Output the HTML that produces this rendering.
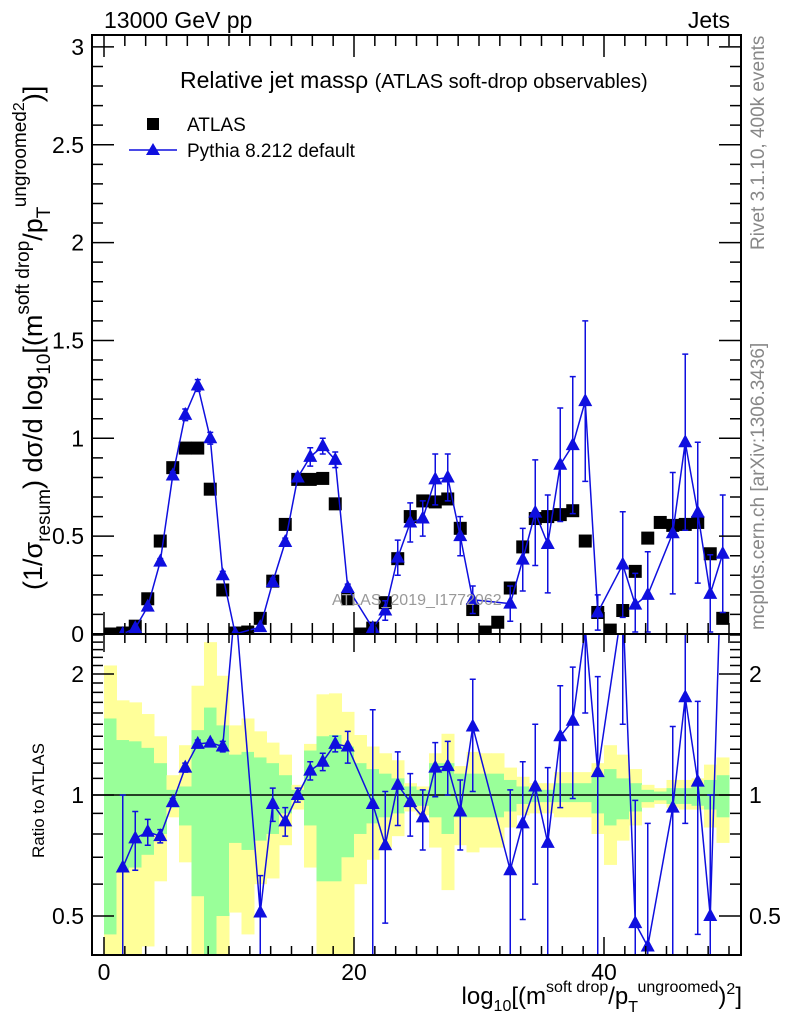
<!DOCTYPE html>
<html><head><meta charset="utf-8"><style>
html,body{margin:0;padding:0;background:#fff;overflow:hidden;width:786px;height:1024px}
svg{display:block;font-family:"Liberation Sans",sans-serif}
</style></head><body>
<svg id="chart" width="786" height="1024" viewBox="0 0 786 1024" xmlns="http://www.w3.org/2000/svg">
<defs>
<clipPath id="cm"><rect x="92" y="35" width="649" height="599"/></clipPath>
<clipPath id="cr"><rect x="92" y="634" width="649" height="321"/></clipPath>
</defs>
<g id="bands" clip-path="url(#cr)"></g>
<g id="ratioG" clip-path="url(#cr)"></g>
<g id="mainG" clip-path="url(#cm)"></g>
<g id="axes"></g>
<text x="104" y="28" font-size="23">13000 GeV pp</text>
<text x="730" y="28" font-size="23" text-anchor="end">Jets</text>
<text x="180" y="88" font-size="23">Relative jet massρ <tspan font-size="20">(ATLAS soft-drop observables)</tspan></text>
<g>
<rect x="147" y="118" width="12" height="12" fill="#000"/>
<text x="187" y="131" font-size="19">ATLAS</text>
<line x1="129" y1="150" x2="177" y2="150" stroke="#0f0fdf" stroke-width="1.5"/>
<path d="M153,143 L160,155 L146,155 Z" fill="#0f0fdf"/>
<text x="187" y="157" font-size="19">Pythia 8.212 default</text>
</g>
<text x="332" y="605" font-size="16" fill="#999">ATLAS_2019_I1772062</text>
<text transform="translate(764,250) rotate(-90)" font-size="19" fill="#888">Rivet 3.1.10,  400k events</text>
<text transform="translate(764,630) rotate(-90)" font-size="19" fill="#888">mcplots.cern.ch [arXiv:1306.3436]</text>
<text transform="translate(42,590) rotate(-90)" font-size="27">(1/σ<tspan font-size="19" dy="8">resum</tspan><tspan dy="-8">) dσ/d log</tspan><tspan font-size="19" dy="8">10</tspan><tspan dy="-8">[(m</tspan><tspan font-size="19" dy="-13">soft drop</tspan><tspan dy="13">/p</tspan><tspan font-size="19" dy="8">T</tspan><tspan font-size="19" dy="-24">ungroomed</tspan><tspan font-size="16" dy="-2">2</tspan><tspan dy="18">)]</tspan></text>
<text transform="translate(44,858) rotate(-90)" font-size="17">Ratio to ATLAS</text>
<text x="742" y="1004" font-size="24" text-anchor="end">log<tspan font-size="16" dy="7">10</tspan><tspan dy="-7">[(m</tspan><tspan font-size="16" dy="-12">soft drop</tspan><tspan dy="12">/p</tspan><tspan font-size="16" dy="8">T</tspan><tspan font-size="16" dy="-20">ungroomed</tspan><tspan dy="12">)</tspan><tspan font-size="16" dy="-10">2</tspan><tspan dy="10">]</tspan></text>
</svg>
<script>
const atlas = [0.0,0.005,0.04,0.18,0.475,0.85,0.95,0.95,0.74,0.225, 0.005,0.01,0.08,0.27,0.56,0.79,0.79,0.795,0.665,0.18, 0.0,0.03,0.16,0.385,0.60,0.68,0.675,0.69,0.54,0.125, 0.01,0.06,0.235,0.445,0.59,0.60,0.61,0.63,0.475,0.11, 0.02,0.12,0.32,0.49,0.57,0.555,0.56,0.57,0.41,0.08];
const pythia = [null,0.0,0.03,0.14,0.37,0.81,1.12,1.27,1.0,0.30, 0.0,null,0.035,0.265,0.47,0.80,0.905,0.96,0.89,0.235, null,0.03,0.12,0.39,0.57,0.59,0.79,0.80,0.50,0.175, null,null,0.155,0.38,0.62,0.46,0.865,0.965,1.19,0.11, null,0.355,0.15,0.2,null,0.515,0.98,0.62,0.205,0.41];
const pythiaErr = [0,0.005,0.01,0.01,0.015,0.02,0.03,0.03,0.03,0.02, 0.01,0,0.01,0.02,0.02,0.02,0.047,0.04,0.04,0.02, 0,0.02,0.05,0.09,0.1,0.09,0.13,0.12,0.1,0.07, 0,0,0.09,0.16,0.27,0.25,0.29,0.35,0.41,0.09, 0,0.27,0.16,0.22,0,0.31,0.45,0.36,0.2,0.3];
const ratio = [null,0.66,0.78,0.81,0.79,0.96,1.17,1.34,1.35,1.32, 3,null,0.51,0.95,0.86,1.0,1.15,1.21,1.34,1.32, null,0.95,0.75,1.06,0.96,0.88,1.17,1.18,0.91,1.48, null,null,0.65,0.85,1.05,0.76,1.40,1.53,2.6,1.14, null,3,0.48,0.42,null,0.93,1.75,1.08,0.5,5];
const ratioErr = [0,0.34,0.13,0.06,0.03,0.02,0.03,0.03,0.02,0.04, 0,0,0.12,0.09,0.07,0.04,0.06,0.06,0.06,0.12, 0,0.68,0.27,0.22,0.17,0.15,0.18,0.18,0.18,0.46, 0,0,0.38,0.36,0.45,0.41,0.47,0.55,1,0.83, 0,1.5,0.49,0.43,0,0.55,0.9,0.63,0.5,2];
const yellowHi = [2.1,1.72,1.70,1.59,1.40,1.12,1.33,1.87,2.4,1.98, 1.49,1.55,1.44,1.35,1.26,1.06,1.34,1.78,1.79,1.61, 1.41,1.32,1.27,1.22,1.07,1.05,1.27,1.42,1.18,1.28, 1.27,1.27,1.17,1.11,1.07,1.07,1.14,1.14,1.14,1.2, 1.33,1.26,1.16,1.06,1.04,1.09,1.09,1.1,1.19,1.24];
const greenHi = [1.55,1.37,1.36,1.31,1.20,1.03,1.05,1.45,1.65,1.49, 1.26,1.28,1.24,1.2,1.12,1.03,1.29,1.4,1.41,1.32, 1.2,1.16,1.13,1.1,1.05,1.03,1.2,1.2,1.13,1.13, 1.13,1.13,1.09,1.05,1.03,1.03,1.07,1.07,1.07,1.11, 1.16,1.1,1.07,1.03,1.02,1.04,1.04,1.05,1.09,1.12];
const greenLo = [0.45,0.65,0.66,0.71,0.80,0.93,0.84,0.56,0.4,0.5, 0.76,0.73,0.77,0.8,0.9,0.97,0.84,0.61,0.61,0.70, 0.8,0.85,0.88,0.9,0.95,0.94,0.88,0.8,0.88,0.88, 0.88,0.88,0.91,0.95,0.96,0.96,0.96,0.96,0.96,0.9, 0.84,0.87,0.91,0.96,0.97,0.95,0.95,0.94,0.92,0.88];
const yellowLo = [0.38,0.38,0.38,0.42,0.61,0.88,0.68,0.38,0.38,0.38, 0.51,0.45,0.6,0.62,0.75,0.92,0.66,0.38,0.38,0.38, 0.6,0.69,0.74,0.79,0.91,0.89,0.74,0.58,0.75,0.72, 0.74,0.74,0.83,0.89,0.9,0.9,0.88,0.88,0.88,0.8, 0.67,0.77,0.84,0.93,0.95,0.93,0.92,0.92,0.83,0.76];
const xTickLabels = ["0","20","40"];
const yTickLabels = ["0","0.5","1","1.5","2","2.5","3"];
const rTickLabels = ["0.5","1","2"];

const NS="http://www.w3.org/2000/svg";
const BLUE="#0f0fdf";
const X0=104, XK=12.5;
function sx(v){return X0+XK*v;}
function sy(v){return 634-195.7*v;}
function sr(r){return 795-402*Math.log10(r);}
function mk(tag,attrs,parent){const e=document.createElementNS(NS,tag);for(const k in attrs)e.setAttribute(k,attrs[k]);parent.appendChild(e);return e;}
const bands=document.getElementById('bands'),ratioG=document.getElementById('ratioG'),mainG=document.getElementById('mainG'),axes=document.getElementById('axes');

for(let i=0;i<atlas.length;i++){
  let y=mk('rect',{x:sx(i),width:XK+0.5,y:sr(yellowHi[i]),height:sr(yellowLo[i])-sr(yellowHi[i]),fill:'#ffff99'},bands);
  
  
  let g=mk('rect',{x:sx(i),width:XK+0.5,y:sr(greenHi[i]),height:sr(greenLo[i])-sr(greenHi[i]),fill:'#99ff99'},bands);
  
  
}
let one=mk('line',{x1:92,x2:741,y1:sr(1),y2:sr(1),stroke:'#000','stroke-width':1.5},ratioG);



function tri(cx,cy,parent,name){
  const t=mk('path',{d:`M${cx},${cy-8} L${cx+7},${cy+5} L${cx-7},${cy+5} Z`,fill:BLUE},parent);
  
  
}
function series(vals,errs,fy,parent,name){
  let pts=[];
  for(let i=0;i<vals.length;i++){ if(vals[i]===null)continue; pts.push(sx(i+0.5)+','+fy(vals[i])); }
  const pl=mk('polyline',{points:pts.join(' '),fill:'none',stroke:BLUE,'stroke-width':1.5},parent);
  
  
  for(let i=0;i<vals.length;i++){
    if(vals[i]===null)continue;
    const cx=sx(i+0.5);
    if(errs[i]>0){
      const lo=Math.max(vals[i]-errs[i],0.01), hi=vals[i]+errs[i];
      const y1=fy(hi),y2=fy(lo);
      const e=mk('path',{d:`M${cx},${y1} V${y2} M${cx-3},${y1} H${cx+3} M${cx-3},${y2} H${cx+3}`,stroke:BLUE,'stroke-width':1.5,fill:'none'},parent);
      
      
    }
    tri(cx,fy(vals[i]),parent,name+'-point');
  }
}
series(ratio,ratioErr,sr,ratioG,'ratio-pythia');
for(let i=0;i<atlas.length;i++){
  const s=mk('rect',{x:sx(i+0.5)-6.5,y:sy(atlas[i])-6.5,width:13,height:13,fill:'#000'},mainG);
  
  
}
series(pythia,pythiaErr,sy,mainG,'pythia');

const f1=mk('rect',{x:92,y:35,width:649,height:599,fill:'none',stroke:'#000','stroke-width':2},axes);


const f2=mk('rect',{x:92,y:634,width:649,height:321,fill:'none',stroke:'#000','stroke-width':2},axes);


let d='';
for(let k=0;;k++){const v=k*20/12; const x=sx(v); if(x>741)break; const big=(k%12===0);
  const L=big?22:11;
  d+=`M${x},634 V${634-L} M${x},35 V${35+L} M${x},955 V${955-(big?18:9)} M${x},634 V${634+(big?18:9)} `;}
for(let k=0;k<=30;k++){const v=k*0.1;const y=sy(v);const L=(k%5===0)?22:11;d+=`M92,${y} H${92+L} M741,${y} H${741-L} `;}
for(let k=4;k<=25;k++){const r=k/10;const y=sr(r);const big=(k===5||k===10||k===20);const L=big?22:11;d+=`M92,${y} H${92+L} M741,${y} H${741-L} `;}
const tk=mk('path',{d:d,stroke:'#000','stroke-width':1.5,fill:'none'},axes);


for(let i=0;i<xTickLabels.length;i++){
  const t=mk('text',{x:sx(i*20),y:980,'font-size':23,'text-anchor':'middle'},axes);t.textContent=xTickLabels[i];
  
  
}
for(let i=0;i<yTickLabels.length;i++){
  const t=mk('text',{x:84,y:sy(i*0.5)+8,'font-size':23,'text-anchor':'end'},axes);t.textContent=yTickLabels[i];
  
  
}
const rv=[0.5,1,2];
for(let i=0;i<rTickLabels.length;i++){
  const t=mk('text',{x:84,y:sr(rv[i])+8,'font-size':23,'text-anchor':'end'},axes);t.textContent=rTickLabels[i];
  
  
  const t2=mk('text',{x:749,y:sr(rv[i])+8,'font-size':23},axes);t2.textContent=rTickLabels[i];
  
  
}
</script>
</body></html>
